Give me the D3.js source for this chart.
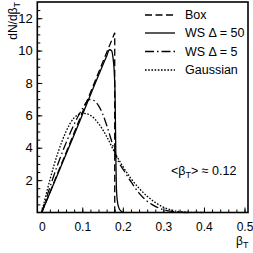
<!DOCTYPE html>
<html>
<head>
<meta charset="utf-8">
<script src="https://cdn.jsdelivr.net/npm/d3@7"></script>
<style>
body { margin: 0; background: #fff; }
svg { display: block; }
</style>
</head>
<body>
<div id="grafico"></div>
<script>
const WIDTH = 253;
const HEIGHT = 253;

// values
const boxBeta = [0, 0.18, 0.18];
const boxN = [0, 11.1, 0];

const ws50Beta = [0, 0.08, 0.16, 0.167, 0.172, 0.176, 0.179, 0.181, 0.182, 0.183, 0.184, 0.186, 0.19, 0.195, 0.2];
const ws50N = [0, 4.8, 9.65, 10.05, 10.0, 9.5, 8.6, 7.0, 5.0, 3.0, 1.6, 0.8, 0.3, 0.1, 0];

const ws5Beta = [0, 0.02, 0.04, 0.06, 0.08, 0.1, 0.118, 0.13, 0.14, 0.15, 0.16, 0.17, 0.18, 0.19, 0.2, 0.22, 0.24, 0.26, 0.28, 0.3, 0.32, 0.34, 0.36];
const ws5N = [0, 1.55, 3.0, 4.3, 5.45, 6.4, 6.98, 6.9, 6.6, 6.1, 5.4, 4.6, 3.75, 3.1, 2.7, 1.9, 1.2, 0.7, 0.38, 0.18, 0.07, 0.02, 0];

const gausBeta = [0, 0.02, 0.04, 0.06, 0.07, 0.08, 0.09, 0.1, 0.11, 0.12, 0.14, 0.16, 0.18, 0.2, 0.22, 0.24, 0.26, 0.28, 0.3, 0.32, 0.34, 0.36, 0.4];
const gausN = [0, 2.0, 3.7, 5.0, 5.5, 5.85, 6.05, 6.12, 6.1, 6.0, 5.5, 4.7, 3.7, 2.85, 2.1, 1.5, 1.0, 0.62, 0.33, 0.15, 0.06, 0.02, 0];

const seriesNames = ["Box", "WS \u0394 = 50", "WS \u0394 = 5", "Gaussian"];
const xTicks = [0, 0.1, 0.2, 0.3, 0.4, 0.5];
const yTicks = [2, 4, 6, 8, 10, 12];

let svg = d3.select("#grafico")
    .append("svg")
    .attr("width", WIDTH)
    .attr("height", HEIGHT);

let plotLeft = 37.3, plotRight = 248, plotTop = 2, plotBottom = 212.5;

let x = d3.scaleLinear().domain([-0.0109, 0.5086]).range([plotLeft, plotRight]);
let y = d3.scaleLinear().domain([0, 13]).range([plotBottom, plotTop]);

let series = [
    {name: seriesNames[0], beta: boxBeta, n: boxN, dash: "7,3.5", curve: d3.curveLinear},
    {name: seriesNames[1], beta: ws50Beta, n: ws50N, dash: null, curve: d3.curveMonotoneX},
    {name: seriesNames[2], beta: ws5Beta, n: ws5N, dash: "9,3,1.5,3", curve: d3.curveMonotoneX},
    {name: seriesNames[3], beta: gausBeta, n: gausN, dash: "1.6,1.6", curve: d3.curveMonotoneX}
];

let font = "'Liberation Sans', Arial, Helvetica, sans-serif";

// axes, ticks pointing inward
let xAxis = svg.append("g").attr("transform", "translate(0," + plotBottom + ")");
xAxis.call(d3.axisBottom(x).tickValues(d3.range(0, 0.5001, 0.02)).tickSize(-3).tickFormat(""));
let xMajor = xAxis.append("g").call(d3.axisBottom(x).tickValues(xTicks).tickSize(-5).tickPadding(9.5).tickFormat(d3.format(".1~f")));

let yAxis = svg.append("g").attr("transform", "translate(" + plotLeft + ",0)");
yAxis.call(d3.axisLeft(y).tickValues(d3.range(0.5, 13, 0.5)).tickSize(-3).tickFormat(""));
let yMajor = yAxis.append("g").call(d3.axisLeft(y).tickValues(yTicks).tickSize(-5).tickPadding(4.5).tickFormat(d3.format("d")));

svg.selectAll(".domain").remove();
svg.selectAll(".tick line").attr("stroke", "#000").attr("stroke-width", 1);
svg.selectAll(".tick text")
    .style("font-family", font)
    .attr("fill", "#000");
xMajor.selectAll("text").style("font-size", "12px");
yMajor.selectAll("text").style("font-size", "13px");

let curves = svg.append("g");
series.forEach((s) => {
    let pts = s.beta.map((b, i) => [b, s.n[i]]);
    curves.append("path")
        .datum(pts)
        .attr("fill", "none")
        .attr("stroke", "#000")
        .attr("stroke-width", 1.3)
        .attr("stroke-dasharray", s.dash)
        .attr("d", d3.line().curve(s.curve).x(d => x(d[0])).y(d => y(d[1])));
});

// frame
svg.append("rect")
    .attr("x", plotLeft)
    .attr("y", plotTop)
    .attr("width", plotRight - plotLeft)
    .attr("height", plotBottom - plotTop)
    .attr("fill", "none")
    .attr("stroke", "#000")
    .attr("stroke-width", 1.6);

// legend
let rows = [15, 33, 51.5, 70];
series.forEach((s, i) => {
    svg.append("line")
        .attr("x1", 145).attr("x2", 175)
        .attr("y1", rows[i]).attr("y2", rows[i])
        .attr("stroke", "#000")
        .attr("stroke-width", 1.3)
        .attr("stroke-dasharray", s.dash);
    svg.append("text")
        .attr("x", 185)
        .attr("y", rows[i] + 4.3)
        .style("font-family", font)
        .style("font-size", "12.5px")
        .text(s.name);
});

// y label
let ylab = svg.append("text")
    .attr("transform", "translate(17,2) rotate(-90)")
    .attr("text-anchor", "end")
    .style("font-family", font)
    .style("font-size", "12px");
ylab.append("tspan").text("dN/d\u03b2");
ylab.append("tspan").attr("dy", 3).style("font-size", "9px").text("T");

// x label
let xlab = svg.append("text")
    .attr("x", 236)
    .attr("y", 245)
    .style("font-family", font)
    .style("font-size", "12px");
xlab.append("tspan").text("\u03b2");
xlab.append("tspan").attr("dy", 3).style("font-size", "9px").text("T");

// mean annotation
let mean = svg.append("text")
    .attr("x", 171)
    .attr("y", 175)
    .style("font-family", font)
    .style("font-size", "12.5px");
mean.append("tspan").text("<\u03b2");
mean.append("tspan").attr("dy", 3).style("font-size", "9px").text("T");
mean.append("tspan").attr("dy", -3).text("> \u2248 0.12");
</script>
</body>
</html>
